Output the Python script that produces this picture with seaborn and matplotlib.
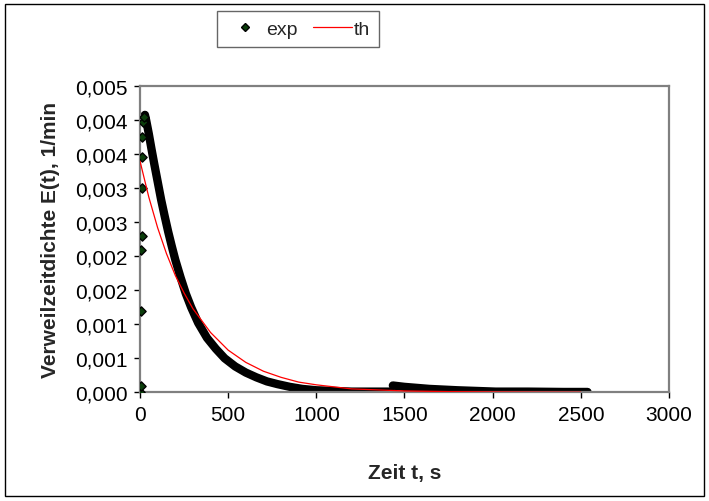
import matplotlib
matplotlib.use("Agg")
import matplotlib.pyplot as plt
import matplotlib.patches as mpatches
from matplotlib.lines import Line2D
import seaborn as sns
import pandas as pd

# ---- data ----
# rising experimental points (discrete markers near t = 0)
exp_rise_t = [0, 3, 6, 8, 9, 10, 12, 14, 16, 20]
exp_rise_e = [0.0, 0.0001, 0.0012, 0.0021, 0.0023, 0.0030, 0.00346, 0.00376, 0.00397, 0.00405]
# decaying experimental data (dense band)
exp_dec_t = [22, 28, 35, 50, 65, 80, 100, 120, 140, 160, 180, 200, 230, 260, 290,
             330, 380, 430, 480, 540, 600, 660, 720, 780, 850, 920, 1000, 1100,
             1200, 1300, 1425]
exp_dec_e = [0.00406, 0.00408, 0.00400, 0.00380, 0.00358, 0.00337, 0.00310, 0.00283,
             0.00259, 0.00236, 0.00215, 0.00195, 0.00169, 0.00145, 0.00125,
             0.00102, 0.00080, 0.00064, 0.00050, 0.00038, 0.00029, 0.00022,
             0.00016, 0.00012, 0.00008, 0.00005, 0.00003, 0.00002,
             0.00001, 0.00001, 0.00001]
# second small bump in the tail
exp_tail_t = [1434, 1500, 1641, 1800, 2017, 2200, 2400, 2538]
exp_tail_e = [0.00010, 0.00008, 0.00005, 0.00003, 0.00001, 0.00001, 0.000005, 0.000005]
# theoretical curve
th_t = [0, 50, 100, 150, 200, 250, 300, 400, 500, 600, 700, 800, 900, 1000,
        1100, 1200, 1300, 1400, 1500, 1750, 2000, 2250, 2500]
th_e = [0.00340, 0.00287, 0.00242, 0.00204, 0.00172, 0.00146, 0.00123, 0.00088,
        0.00062, 0.00044, 0.00031, 0.00022, 0.00015, 0.00011, 0.00008, 0.00005,
        0.00004, 0.00003, 0.00002, 0.00001, 0.000005, 0.000002, 0.000001]

xticks = [0, 500, 1000, 1500, 2000, 2500, 3000]
yticks = [0.0, 0.0005, 0.0010, 0.0015, 0.0020, 0.0025, 0.0030, 0.0035, 0.0040, 0.0045]
ytick_labels = ["0,000", "0,001", "0,001", "0,002", "0,002",
                "0,003", "0,003", "0,004", "0,004", "0,005"]
legend_labels = ["exp", "th"]

sns.set_theme(style="white")
plt.rcParams["font.family"] = ["Liberation Sans", "DejaVu Sans"]

W, H = 709, 502
fig = plt.figure(figsize=(W / 100, H / 100), dpi=100)
L, R, T, B = 140, 669, 87.3, 393.3
ax = fig.add_axes([L / W, 1 - B / H, (R - L) / W, (B - T) / H])

mk_face = "#0b3d0b"

df_dec = pd.DataFrame({"t": exp_dec_t, "e": exp_dec_e})
df_tail = pd.DataFrame({"t": exp_tail_t, "e": exp_tail_e})
df_rise = pd.DataFrame({"t": exp_rise_t, "e": exp_rise_e})
df_th = pd.DataFrame({"t": th_t, "e": th_e})

for d in (df_dec, df_tail):
    sns.lineplot(data=d, x="t", y="e", ax=ax, color="black", lw=6.0,
                 estimator=None, sort=False, solid_capstyle="round",
                 solid_joinstyle="round", legend=False)
sns.scatterplot(data=df_rise, x="t", y="e", ax=ax, marker="D", s=22,
                color=mk_face, edgecolor="black", linewidth=1.0, legend=False, zorder=3)
sns.lineplot(data=df_th, x="t", y="e", ax=ax, color="#ff0000", lw=0.9,
             estimator=None, sort=False, legend=False, zorder=4)

ax.set_xlim(0, 3000)
ax.set_ylim(0, 0.0045)
ax.set_xticks(xticks)
ax.set_xticklabels([str(v) for v in xticks])
ax.set_yticks(yticks)
ax.set_yticklabels(ytick_labels)
ax.tick_params(axis="both", which="major", direction="out", length=4, width=1,
               color="black", labelsize=15, labelcolor="black", pad=5,
               bottom=True, left=True)
for sp in ax.spines.values():
    sp.set_color("#808080")
    sp.set_linewidth(1.6)
ax.set_xlabel("Zeit t, s", fontsize=15, fontweight="bold", labelpad=28)
ax.set_ylabel("Verweilzeitdichte E(t), 1/min", fontsize=15, fontweight="bold", labelpad=11)
ax.grid(False)

handles = [Line2D([], [], marker="D", ls="none", color="black", markerfacecolor=mk_face,
                  markeredgecolor="black", markersize=4.5),
           Line2D([], [], color="#ff0000", lw=0.9)]
leg = fig.legend(handles, legend_labels, loc="center", ncol=2,
                 bbox_to_anchor=(218 / W, 1 - 47 / H, 160 / W, 34 / H),
                 frameon=True, fancybox=False, fontsize=14, handlelength=2.0,
                 columnspacing=0.8, handletextpad=0.1, borderpad=0.45)
leg.get_frame().set_edgecolor("#404040")
leg.get_frame().set_linewidth(1.0)

fig.patches.append(mpatches.Rectangle((5 / W, 1 - 497 / H), 699 / W, 492 / H,
                                      transform=fig.transFigure, fill=False,
                                      edgecolor="black", lw=1.0))

fig.savefig("out.png", dpi=100)
